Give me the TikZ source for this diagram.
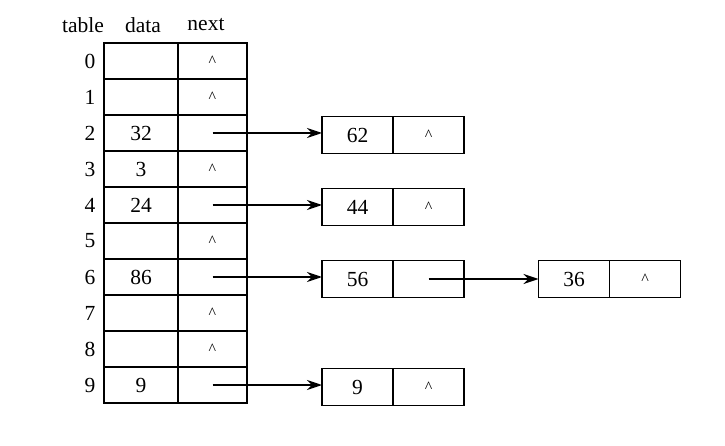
\documentclass[tikz,border=0pt]{standalone}
\usepackage{fontspec}
\setmainfont{Liberation Serif}
\usetikzlibrary{positioning,arrows.meta}
\newcommand{\nullp}{{\fontsize{16}{18}\selectfont\textasciicircum}}
\tikzset{
  cell/.style={draw, line width=1.9pt, outer sep=0pt, inner sep=0pt, minimum height=36pt},
  datacell/.style={cell, minimum width=74pt},
  nextcell/.style={cell, minimum width=69pt},
  valcell/.style={cell, minimum width=71pt, minimum height=37pt},
  link/.style={-{Stealth[length=15pt,width=10pt]}, line width=1.6pt},
}
\begin{document}
\begin{tikzpicture}[x=1pt, y=-1pt, font=\fontsize{21.5}{25}\selectfont]
  \useasboundingbox (0,0) rectangle (725,446);
  % headers
  \node (table) at (83,25)  {table};
  \node (data)  at (143,25) {data};
  \node (next)  at (206,25) {next};
  % hash table
  \node [datacell] (d0) at (141,61)      {};
  \node [datacell] (d1) [below=0pt of d0] {};
  \node [datacell] (d2) [below=0pt of d1] {32};
  \node [datacell] (d3) [below=0pt of d2] {3};
  \node [datacell] (d4) [below=0pt of d3] {24};
  \node [datacell] (d5) [below=0pt of d4] {};
  \node [datacell] (d6) [below=0pt of d5] {86};
  \node [datacell] (d7) [below=0pt of d6] {};
  \node [datacell] (d8) [below=0pt of d7] {};
  \node [datacell] (d9) [below=0pt of d8] {9};
  \node [nextcell] (n0) [right=0pt of d0] {\nullp};
  \node [nextcell] (n1) [right=0pt of d1] {\nullp};
  \node [nextcell] (n2) [right=0pt of d2] {};
  \node [nextcell] (n3) [right=0pt of d3] {\nullp};
  \node [nextcell] (n4) [right=0pt of d4] {};
  \node [nextcell] (n5) [right=0pt of d5] {\nullp};
  \node [nextcell] (n6) [right=0pt of d6] {};
  \node [nextcell] (n7) [right=0pt of d7] {\nullp};
  \node [nextcell] (n8) [right=0pt of d8] {\nullp};
  \node [nextcell] (n9) [right=0pt of d9] {};
  % indices
  \node (i0) [left=5pt of d0] {0};
  \node (i1) [left=5pt of d1] {1};
  \node (i2) [left=5pt of d2] {2};
  \node (i3) [left=5pt of d3] {3};
  \node (i4) [left=5pt of d4] {4};
  \node (i5) [left=5pt of d5] {5};
  \node (i6) [left=5pt of d6] {6};
  \node (i7) [left=5pt of d7] {7};
  \node (i8) [left=5pt of d8] {8};
  \node (i9) [left=5pt of d9] {9};
  % overflow nodes
  \node [valcell] (v62) at (357.5,135) {62};
  \node [valcell] (p62) [right=0pt of v62] {\nullp};
  \node [valcell] (v44) at (357.5,207) {44};
  \node [valcell] (p44) [right=0pt of v44] {\nullp};
  \node [valcell] (v56) at (357.5,279) {56};
  \node [valcell] (p56) [right=0pt of v56] {};
  \node [valcell] (v36) at (574,279)   {36};
  \node [valcell] (p36) [right=0pt of v36] {\nullp};
  \node [valcell] (v9)  at (357.5,387) {9};
  \node [valcell] (p9)  [right=0pt of v9] {\nullp};
  % links
  \draw [link] (n2.center) -- (n2.center -| v62.west);
  \draw [link] (n4.center) -- (n4.center -| v44.west);
  \draw [link] (n6.center) -- (n6.center -| v56.west);
  \draw [link] (p56.center) -- (p56.center -| v36.west);
  \draw [link] (n9.center) -- (n9.center -| v9.west);
\end{tikzpicture}
\end{document}
